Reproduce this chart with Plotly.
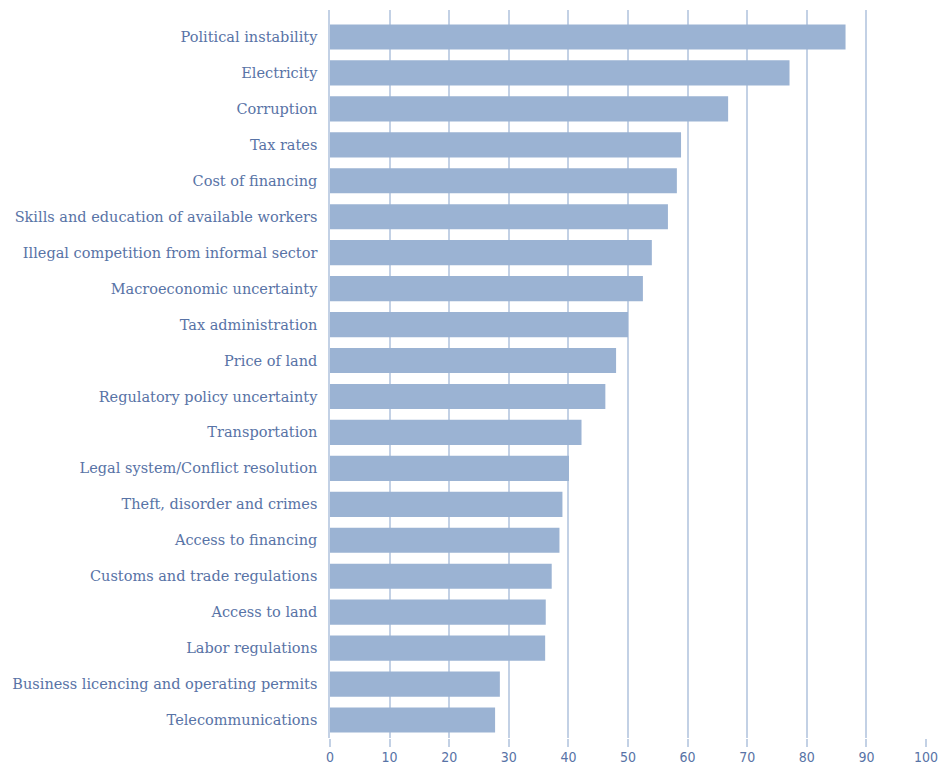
import plotly.graph_objects as go

categories = [
    "Political instability",
    "Electricity",
    "Corruption",
    "Tax rates",
    "Cost of financing",
    "Skills and education of available workers",
    "Illegal competition from informal sector",
    "Macroeconomic uncertainty",
    "Tax administration",
    "Price of land",
    "Regulatory policy uncertainty",
    "Transportation",
    "Legal system/Conflict resolution",
    "Theft, disorder and crimes",
    "Access to financing",
    "Customs and trade regulations",
    "Access to land",
    "Labor regulations",
    "Business licencing and operating permits",
    "Telecommunications",
]
values = [86.5, 77.1, 66.8, 58.9, 58.2, 56.7, 54.0, 52.5, 50.0, 48.0,
          46.2, 42.2, 40.1, 39.0, 38.5, 37.2, 36.2, 36.1, 28.5, 27.7]
x_ticks = [0, 10, 20, 30, 40, 50, 60, 70, 80, 90, 100]

# bottom-to-top order for the category axis
cats_plot = categories[::-1]
vals_plot = values[::-1]

bar_color = "#9bb3d3"
grid_color = "#c3d1e5"
text_color = "#5873a6"
font_family = "DejaVu Serif, serif"

fig = go.Figure(
    go.Bar(
        x=vals_plot,
        y=cats_plot,
        orientation="h",
        marker=dict(color=bar_color, line=dict(width=0)),
        width=0.7,
    )
)

fig.update_layout(
    width=940,
    height=769,
    margin=dict(l=330, r=14, t=10, b=31),
    paper_bgcolor="white",
    plot_bgcolor="white",
    showlegend=False,
    font=dict(family=font_family, color=text_color, size=14),
    xaxis=dict(
        automargin=False,
        range=[0, 100],
        tickvals=x_ticks,
        ticktext=[str(t) for t in x_ticks],
        ticklabeloverflow="allow",
        showgrid=True,
        gridcolor=grid_color,
        gridwidth=1.5,
        zeroline=False,
        showline=False,
        ticks="outside",
        ticklen=8,
        tickwidth=1.5,
        tickcolor=grid_color,
        ticklabelstandoff=-2,
        tickfont=dict(size=14, color=text_color, family="DejaVu Sans Condensed, DejaVu Sans, sans-serif"),
    ),
    yaxis=dict(
        automargin=False,
        type="category",
        categoryorder="array",
        categoryarray=cats_plot,
        range=[-0.5, 19.75],
        showgrid=False,
        zeroline=False,
        showline=True,
        linecolor=grid_color,
        linewidth=1.5,
        ticks="",
        ticklabelstandoff=8,
        tickfont=dict(size=14.5, color=text_color),
    ),
)

fig.write_html(
    "out.html",
    config={"displayModeBar": False},
    post_script="document.documentElement.style.margin='0';document.body.style.margin='0';document.body.style.overflow='hidden';",
)
